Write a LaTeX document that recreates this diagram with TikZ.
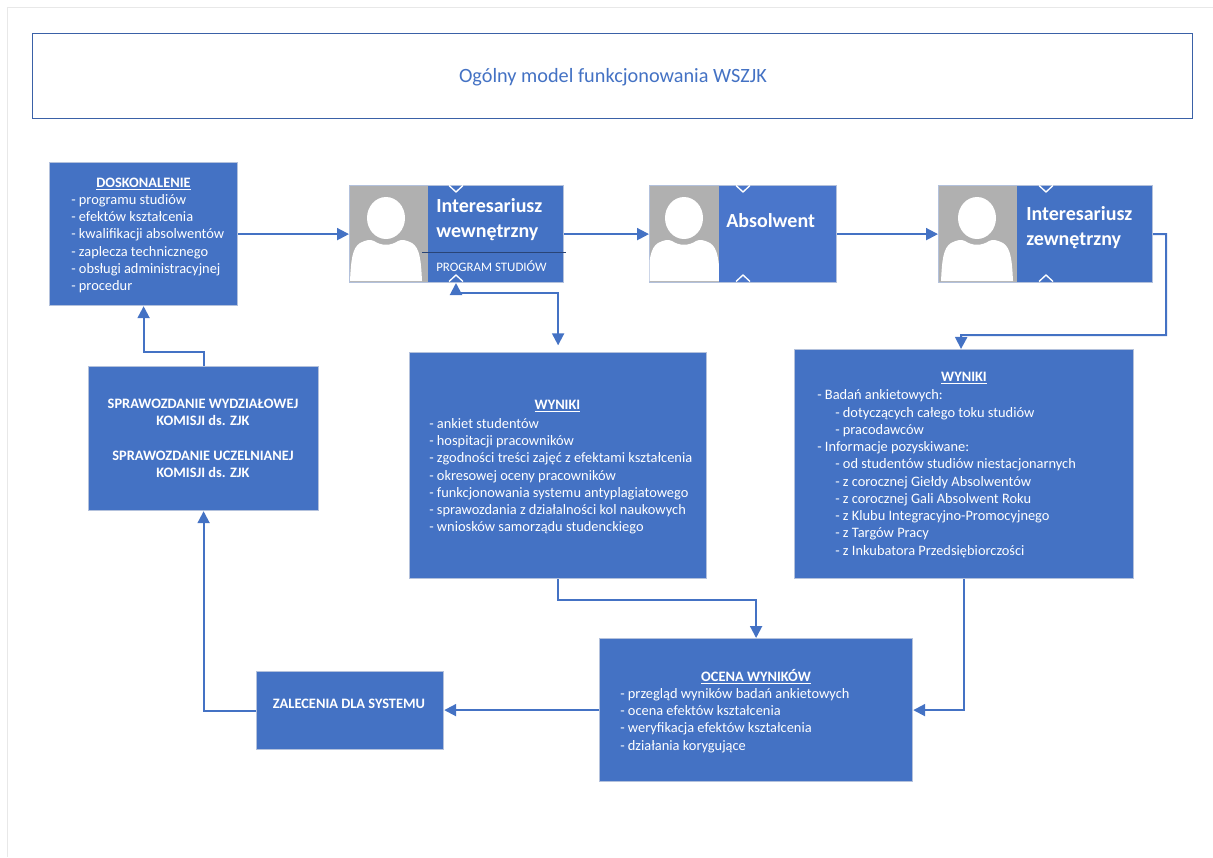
\documentclass[tikz,border=0pt]{standalone}
\usepackage{fontspec}
\usepackage{tikz}
\usetikzlibrary{arrows.meta}
\setmainfont{Carlito}
\definecolor{boxblue}{HTML}{4472C4}
\definecolor{absblue}{HTML}{4A76CB}
\definecolor{boxedge}{HTML}{B3C1DC}
\definecolor{photogrey}{HTML}{B0B0B0}
\newcommand{\listfont}{\fontsize{10.8}{12.95}\selectfont}
\tikzset{
  box/.style={draw=boxedge,line width=0.9pt,fill=boxblue,inner sep=0,anchor=north west},
  photo/.style={fill=photogrey,inner sep=0,anchor=north west},
  txt/.style={text=white,inner sep=0,align=left,anchor=north west,font=\listfont},
  head/.style={text=white,inner sep=0,font=\listfont\bfseries},
  nameb/.style={text=white,inner sep=0,align=left,anchor=west,font=\fontsize{15}{18.8}\selectfont\bfseries},
  link/.style={draw=boxblue,line width=1.5pt,-{Triangle[length=9pt,width=9pt]}},
  chev/.style={draw=white,line width=1pt},
  person/.pic={
    \fill[white] (0,-18) ellipse (19 and 21);
    \fill[white] (-36,45) .. controls (-35,25) and (-34,12) .. (-26,7)
      .. controls (-20,4) and (-16,3) .. (-12,5)
      .. controls (-5,10) and (5,10) .. (12,5)
      .. controls (16,3) and (20,4) .. (26,7)
      .. controls (34,12) and (35,25) .. (36,45) -- cycle;
  }
}
\begin{document}
\begin{tikzpicture}[x=0.75pt,y=-0.75pt]
  \useasboundingbox (0,0) rectangle (1213,857);
  \draw[draw=black!9,line width=0.7pt] (7,857) -- (7,7) -- (1213,7);

  \node[box,draw=boxblue!85!black,fill=white,minimum width=870pt,minimum height=63.75pt] (title) at (32,33) {};
  \node[text=boxblue,inner sep=0,font=\fontsize{15.2}{18}\selectfont] (titletext) at (613,77) {Ogólny model funkcjonowania WSZJK};

  % upper row
  \node[box,minimum width=141pt,minimum height=107.25pt] (dosk) at (49,162) {};
  \node[head] (doskhead) at (143.5,184) {\underline{DOSKONALENIE}};
  \node[txt] (dosktext) at (71,194) {- programu studiów\\- efektów kształcenia\\- kwalifikacji absolwentów\\- zaplecza technicznego\\- obsługi administracyjnej\\- procedur};

  \node[box,minimum width=160.5pt,minimum height=72.75pt] (wewn) at (349,185) {};
  \node[photo,minimum width=58.5pt,minimum height=72pt] (wewnphoto) at (349.5,185.5) {};
  \pic at (386,236) {person};
  \node[nameb] (wewnname) at (436,220) {Interesariusz\\wewnętrzny};
  \node[txt,font=\fontsize{9.7}{12}\selectfont] (wewnprog) at (436,260) {PROGRAM STUDIÓW};
  \draw[draw=boxblue!60!black,line width=0.7pt] (422,252) -- (566,252);

  \node[box,fill=absblue,minimum width=140.25pt,minimum height=72.75pt] (absol) at (649,185) {};
  \node[photo,minimum width=52pt,minimum height=72pt] (absolphoto) at (649.5,185.5) {};
  \begin{scope}
    \clip (649.5,185.5) rectangle (718.8,281.5);
    \pic at (684,236) {person};
  \end{scope}
  \node[nameb] (absolname) at (726,220.5) {Absolwent};

  \node[box,minimum width=160.5pt,minimum height=72.75pt] (zewn) at (938,185) {};
  \node[photo,minimum width=59pt,minimum height=72pt] (zewnphoto) at (938.5,185.5) {};
  \pic at (977,236) {person};
  \node[nameb] (zewnname) at (1026,227.5) {Interesariusz\\zewnętrzny};

  \foreach \x in {456,743,1046} {
    \draw[chev] (\x-7,185.5) -- (\x,192) -- (\x+7,185.5);
    \draw[chev] (\x-7,281.5) -- (\x,275) -- (\x+7,281.5);
  }

  % results
  \node[box,minimum width=222.75pt,minimum height=169.5pt] (wyn1) at (409,352) {};
  \node[head] (wyn1head) at (557.5,406) {\underline{WYNIKI}};
  \node[txt] (wyn1text) at (429,418) {- ankiet studentów\\- hospitacji pracowników\\- zgodności treści zajęć z efektami kształcenia\\- okresowej oceny pracowników\\- funkcjonowania systemu antyplagiatowego\\- sprawozdania z działalności kol naukowych\\- wniosków samorządu studenckiego};

  \node[box,minimum width=254.25pt,minimum height=171.75pt] (wyn2) at (794,349) {};
  \node[head] (wyn2head) at (964,378) {\underline{WYNIKI}};
  \node[txt] (wyn2text) at (817,389.5) {- Badań ankietowych:\\\hspace*{13.5pt}- dotyczących całego toku studiów\\\hspace*{13.5pt}- pracodawców\\- Informacje pozyskiwane:\\\hspace*{13.5pt}- od studentów studiów niestacjonarnych\\\hspace*{13.5pt}- z corocznej Giełdy Absolwentów\\\hspace*{13.5pt}- z corocznej Gali Absolwent Roku\\\hspace*{13.5pt}- z Klubu Integracyjno-Promocyjnego\\\hspace*{13.5pt}- z Targów Pracy\\\hspace*{13.5pt}- z Inkubatora Przedsiębiorczości};

  % lower row
  \node[box,minimum width=234.75pt,minimum height=107.25pt] (ocena) at (599,638) {};
  \node[head] (ocenahead) at (756,677) {\underline{OCENA WYNIKÓW}};
  \node[txt] (ocenatext) at (620,688) {- przegląd wyników badań ankietowych\\- ocena efektów kształcenia\\- weryfikacja efektów kształcenia\\- działania korygujące};

  \node[box,minimum width=140.25pt,minimum height=58.5pt] (zal) at (256,671) {};
  \node[head] (zaltext) at (349,704) {ZALECENIA DLA SYSTEMU};

  \node[box,minimum width=172.5pt,minimum height=108pt] (spraw) at (88,366) {};
  \node[head,align=center] (sprawtext) at (203,438.5) {SPRAWOZDANIE WYDZIAŁOWEJ\\KOMISJI ds. ZJK\\[12.95pt]SPRAWOZDANIE UCZELNIANEJ\\KOMISJI ds. ZJK};

  % connectors
  \coordinate (wewnport) at (456,283);
  \coordinate (wyn2port) at (961,349);
  \draw[link] (dosk.east |- wewn.west) -- (wewn.west);
  \draw[link] (wewn.east) -- (absol.west);
  \draw[link] (absol.east) -- (zewn.west);
  \draw[link] (zewn.east) -- ++(13,0) |- ++(-205,101) -- (wyn2port);
  \draw[link,{Triangle[length=9pt,width=9pt]}-{Triangle[length=9pt,width=9pt]},shorten >=5pt] (wewnport) -- ++(0,10) -| (wyn1.north);
  \draw[link] (wyn1.south) -- ++(0,21) -| (ocena.north);
  \draw[link] (wyn2.south) |- (ocena.east);
  \draw[link] (ocena.west) -- (zal.east |- ocena.west);
  \draw[link] (zal.west) -| (spraw.south);
  \draw[link] (spraw.north) -- ++(0,-14) -| (dosk.south);
\end{tikzpicture}
\end{document}
